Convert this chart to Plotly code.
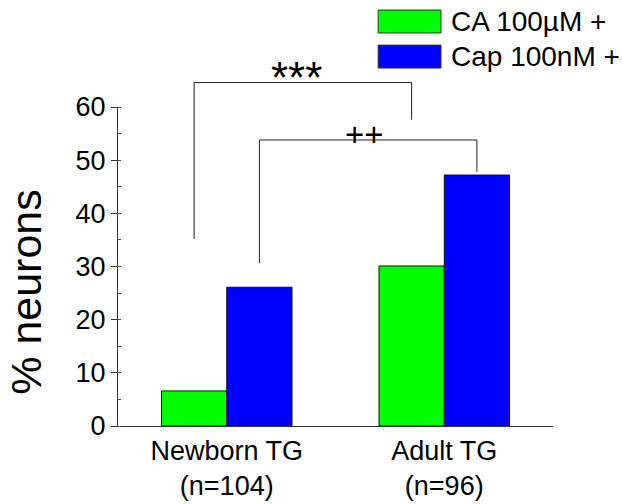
import plotly.graph_objects as go

categories = ["Newborn TG<br>(n=104)", "Adult TG<br>(n=96)"]
series_names = ["CA 100µM +", "Cap 100nM +"]
ca_values = [6.6, 30.1]
cap_values = [26.1, 47.2]
colors = ["#00FF00", "#0000FF"]

# significance brackets: (series index, left start, top, right end, label)
brackets = [
    (0, 35.2, 64.6, 57.6, "***"),
    (1, 30.6, 53.8, 47.8, "++"),
]

y_max = 60
bargap = 0.4
FONT = "Liberation Sans, Arial, sans-serif"

fig = go.Figure()
for name, vals, col in zip(series_names, [ca_values, cap_values], colors):
    fig.add_trace(go.Bar(
        x=categories, y=vals, name=name,
        marker=dict(color=col, line=dict(color="#111111", width=1)),
        showlegend=False,
    ))

# bar centre offsets within a group
bar_w = (1 - bargap) / len(series_names)
offsets = [-(1 - bargap) / 2 + bar_w * (i + 0.5) for i in range(len(series_names))]

label_style = {"***": dict(size=44, xshift=-6, yshift=5),
               "++": dict(size=33, xshift=-4, yshift=5)}

shapes = []
annotations = []
for si, y_left, y_top, y_right, label in brackets:
    xl = 0 + offsets[si]
    xr = 1 + offsets[si]
    path_pts = [(xl, y_left), (xl, y_top), (xr, y_top), (xr, y_right)]
    for (xa, ya), (xb, yb) in zip(path_pts[:-1], path_pts[1:]):
        shapes.append(dict(type="line", xref="x", yref="paper",
                           x0=xa, x1=xb, y0=ya / y_max, y1=yb / y_max,
                           line=dict(color="#222222", width=1)))
    st = label_style[label]
    annotations.append(dict(
        x=(xl + xr) / 2, y=y_top / y_max, xref="x", yref="paper",
        text=label, showarrow=False,
        yanchor="middle", yshift=st["yshift"], xshift=st["xshift"],
        font=dict(family=FONT, size=st["size"], color="black"),
    ))

# manual legend
legend_rows = [(1.232, 1.304), (1.122, 1.194)]
for (y0, y1), name, col in zip(legend_rows, series_names, colors):
    shapes.append(dict(type="rect", xref="paper", yref="paper",
                       x0=0.598, x1=0.7425, y0=y0, y1=y1,
                       fillcolor=col, line=dict(color="#333333", width=1)))
    annotations.append(dict(x=0.761, y=(y0 + y1) / 2, xref="paper", yref="paper",
                            text=name, showarrow=False, xanchor="left", yanchor="middle",
                            font=dict(family=FONT, size=28, color="black")))

# y-axis title
annotations.append(dict(x=-0.212, y=0.42, xref="paper", yref="paper",
                        text="% neurons", textangle=-90, showarrow=False,
                        xanchor="center", yanchor="middle",
                        font=dict(family=FONT, size=43, color="black")))

fig.update_layout(
    width=623, height=504,
    margin=dict(l=118, r=70, t=107, b=78),
    paper_bgcolor="white", plot_bgcolor="white",
    barmode="group", bargap=bargap, bargroupgap=0,
    shapes=shapes, annotations=annotations,
    font=dict(family=FONT, color="black"),
)
fig.update_xaxes(showline=True, linecolor="#333333", linewidth=1.3,
                 ticks="", showgrid=False, zeroline=False, automargin=False,
                 tickfont=dict(family=FONT, size=27, color="black"))
fig.update_yaxes(range=[0, y_max], dtick=10, showline=True, linecolor="#333333",
                 linewidth=1.3, ticks="outside", ticklen=6, tickcolor="#333333",
                 showgrid=False, zeroline=False, automargin=False,
                 tickfont=dict(family=FONT, size=27, color="black"),
                 minor=dict(ticks="inside", ticklen=3, dtick=5, tickcolor="#555555",
                            showgrid=False))

fig.write_html("out.html")
